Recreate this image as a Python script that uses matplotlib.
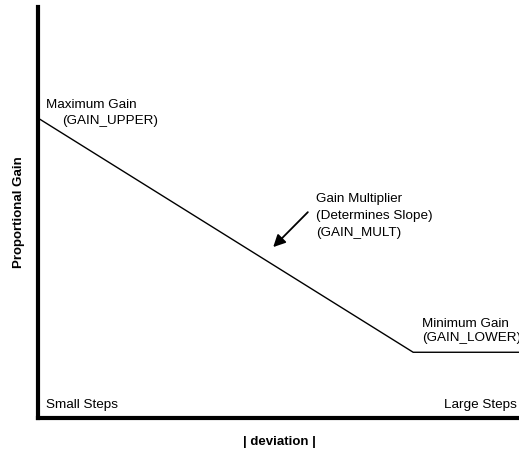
import matplotlib
matplotlib.use("Agg")
import matplotlib.pyplot as plt

plt.rcParams['font.family'] = ['Liberation Sans', 'DejaVu Sans']

# normalised |deviation| and proportional gain along the curve
deviation = [0.0, 0.78, 1.0]
gain = [0.73, 0.16, 0.16]

fig = plt.figure(figsize=(5.19, 4.52), dpi=100)
ax = fig.add_axes([0.0732, 0.073, 0.9268, 0.909])
ax.set_xlim(0, 1)
ax.set_ylim(0, 1)

ax.plot(deviation, gain, color='black', lw=1.0, solid_joinstyle='miter')

for s in ['top', 'right']:
    ax.spines[s].set_visible(False)
for s in ['left', 'bottom']:
    ax.spines[s].set_linewidth(3.0)
    ax.spines[s].set_capstyle('projecting')
ax.set_xticks([])
ax.set_yticks([])

fs = 9.7
ax.text(0.017, 0.764, 'Maximum Gain', fontsize=fs, va='center')
ax.text(0.050, 0.725, '(GAIN_UPPER)', fontsize=fs, va='center')

ax.text(0.578, 0.535, 'Gain Multiplier', fontsize=fs, va='center')
ax.text(0.578, 0.493, '(Determines Slope)', fontsize=fs, va='center')
ax.text(0.578, 0.452, '(GAIN_MULT)', fontsize=fs, va='center')
ax.annotate('', xy=(0.489, 0.416), xytext=(0.561, 0.501),
            arrowprops=dict(arrowstyle='-|>', color='black', lw=1.3,
                            mutation_scale=18, shrinkA=0, shrinkB=0))

ax.text(0.798, 0.231, 'Minimum Gain', fontsize=fs, va='center', clip_on=False)
ax.text(0.798, 0.196, '(GAIN_LOWER)', fontsize=fs, va='center', clip_on=False)

ax.text(0.017, 0.034, 'Small Steps', fontsize=fs, va='center')
ax.text(0.996, 0.034, 'Large Steps', fontsize=fs, va='center', ha='right')

ax.set_xlabel('| deviation |', fontsize=9.5, fontweight='bold', va='center')
ax.xaxis.set_label_coords(0.501, -0.055)
ax.set_ylabel('Proportional Gain', fontsize=9.5, fontweight='bold', va='center')
ax.yaxis.set_label_coords(-0.04, 0.504)

fig.savefig('out.png', dpi=100)
